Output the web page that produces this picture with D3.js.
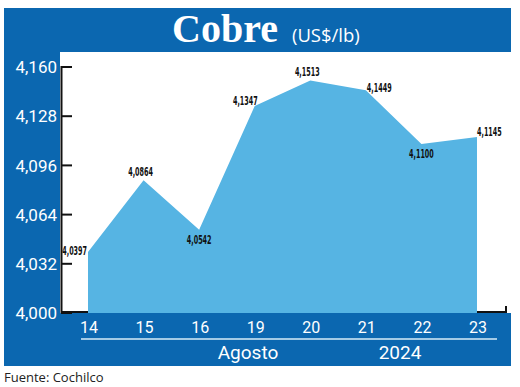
<!DOCTYPE html>
<html><head><meta charset="utf-8">
<script src="https://cdn.jsdelivr.net/npm/d3@7"></script>
<style>body{margin:0;background:#fff}svg{display:block}</style>
</head><body>
<svg id="c" width="520" height="387"></svg>
<script>
const days = ["14","15","16","19","20","21","22","23"];
const values = [4.0397, 4.0864, 4.0542, 4.1347, 4.1513, 4.1449, 4.1100, 4.1145];
const yTicks = [4.000, 4.032, 4.064, 4.096, 4.128, 4.160];
const monthLabel = "Agosto";
const yearLabel = "2024";
const title = "Cobre";
const unit = "(US$/lb)";
const source = "Fuente: Cochilco";

const BLUE = "#0b67b0", AREA = "#56b4e3";
const svg = d3.select("#c");
const fmt = v => d3.format(".3f")(v).replace(".", ",");
const fmtL = v => d3.format(".4f")(v).replace(".", ",");

// background bands
svg.append("rect").attr("x",4).attr("y",8).attr("width",507).attr("height",44).attr("fill",BLUE);
svg.append("rect").attr("x",4).attr("y",52).attr("width",56).attr("height",314).attr("fill",BLUE);
svg.append("rect").attr("x",4).attr("y",313).attr("width",507).attr("height",53).attr("fill",BLUE);

const x = d3.scalePoint().domain(days).range([88, 477]);
const y = d3.scaleLinear().domain([4.0, 4.16]).range([313, 67]);

// axes lines
svg.append("line").attr("x1",61.5).attr("x2",61.5).attr("y1",y(4.16)-1).attr("y2",313).attr("stroke","#111").attr("stroke-width",2);
svg.append("path").attr("d",`M61,312H506V306`).attr("fill","none").attr("stroke","#111").attr("stroke-width",2);

// area
const area = d3.area().x((d,i)=>x(days[i])).y0(y(4.0)).y1(d=>y(d));
svg.append("path").datum(values).attr("d",area).attr("fill",AREA);

// y ticks
const yg = svg.append("g");
yTicks.forEach(t=>{
  yg.append("line").attr("x1",61).attr("x2",72).attr("y1",y(t)).attr("y2",y(t)).attr("stroke","#111").attr("stroke-width",2);
  yg.append("text").attr("x",57).attr("y",y(t)).attr("dy","0.36em").attr("text-anchor","end")
    .attr("fill","#fff").attr("font-family","Roboto, sans-serif").attr("font-size",17).text(fmt(t));
});

// x tick labels
days.forEach(d=>{
  svg.append("text").attr("x",x(d)+1).attr("y",333).attr("text-anchor","middle").attr("fill","#fff")
    .attr("font-family","Roboto, sans-serif").attr("font-size",16).text(d);
});
svg.append("line").attr("x1",81).attr("x2",497).attr("y1",339).attr("y2",339).attr("stroke","#d8ecf8").attr("stroke-width",1.3);
svg.append("text").attr("x",248).attr("y",359).attr("text-anchor","middle").attr("fill","#fff")
  .attr("font-family","Roboto, sans-serif").attr("font-size",19).text(monthLabel);
svg.append("text").attr("x",400).attr("y",359).attr("text-anchor","middle").attr("fill","#fff")
  .attr("font-family","Roboto, sans-serif").attr("font-size",19).text(yearLabel);

// data labels
values.forEach((v,i)=>{
  const px = x(days[i]), py = y(v);
  const prev = values[i-1], next = values[i+1];
  let tx, ty, anchor;
  if (i === 0) { tx = px-1; ty = py+3; anchor = "end"; }
  else if (i === values.length-1) { tx = px; ty = py-1; anchor = "start"; }
  else if (v > prev && v > next) { tx = px-3; ty = py-4; anchor = "middle"; }
  else if (v < prev && v < next) { tx = px; ty = py+14; anchor = "middle"; }
  else if (v > prev) { tx = px+3; ty = py-1; anchor = "end"; }
  else { tx = px+1; ty = py+2; anchor = "start"; }
  svg.append("text").attr("transform",`translate(${tx},${ty}) scale(0.68,1.25)`).attr("text-anchor",anchor)
    .attr("font-family","'DejaVu Sans Condensed','DejaVu Sans',sans-serif")
    .attr("font-weight","bold").attr("font-size",10.5).attr("fill","#111").text(fmtL(v));
});

// title
const tg = svg.append("text").attr("y",42).attr("fill","#fff");
tg.append("tspan").attr("x",172).attr("font-family","'Liberation Serif','DejaVu Serif',serif")
  .attr("font-weight","bold").attr("font-size",40).text(title);
tg.append("tspan").attr("dx",14).attr("font-family","'Open Sans',sans-serif").attr("font-size",18.5).text(unit);

svg.append("text").attr("x",4).attr("y",382).attr("fill","#222")
  .attr("font-family","'Open Sans',sans-serif").attr("font-size",13).text(source);
</script>
</body></html>
